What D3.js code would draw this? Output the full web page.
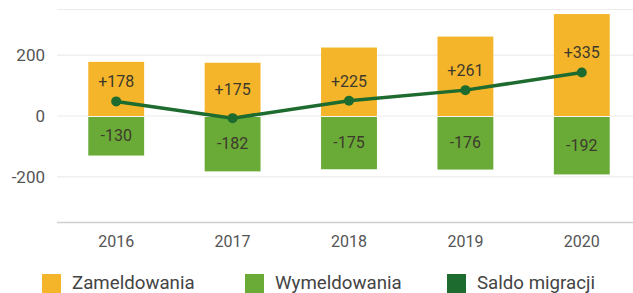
<!DOCTYPE html>
<html>
<head>
<meta charset="utf-8">
<script src="https://cdn.jsdelivr.net/npm/d3@7"></script>
<style>
  body { margin: 0; background: #fff; }
  text { font-family: Roboto, "Noto Sans", sans-serif; }
</style>
</head>
<body>
<div id="chart"></div>
<script>
// data
var years = ["2016", "2017", "2018", "2019", "2020"];
var zameldowania = [178, 175, 225, 261, 335];
var wymeldowania = [-130, -182, -175, -176, -192];
var yTicks = [-200, 0, 200];
var legendLabels = ["Zameldowania", "Wymeldowania", "Saldo migracji"];

var saldo = years.map(function(d, i) { return zameldowania[i] + wymeldowania[i]; });

var width = 633, height = 293;
var colors = ["#f5b52a", "#6aab38", "#1d6b2f"];

var svg = d3.select("#chart")
  .append("svg")
    .attr("width", width)
    .attr("height", height);

// scales
var x = d3.scaleBand()
  .domain(years)
  .range([58, 640])
  .paddingInner(0.52)
  .paddingOuter(0.26);

var y = d3.scaleLinear()
  .domain([-350, 350])
  .range([222.5, 9.5]);

// grid lines
svg.selectAll(".grid")
  .data(yTicks.concat([350]))
  .enter()
  .append("line")
    .attr("x1", 57)
    .attr("x2", width)
    .attr("y1", function(d) { return y(d); })
    .attr("y2", function(d) { return y(d); })
    .style("stroke", "#ebebeb")
    .style("stroke-width", 1.2);

// bottom axis line
svg.append("line")
  .attr("x1", 57).attr("x2", width)
  .attr("y1", y(-350)).attr("y2", y(-350))
  .style("stroke", "#d0d0d0")
  .style("stroke-width", 1.5);

// y labels
svg.selectAll(".ylab")
  .data(yTicks)
  .enter()
  .append("text")
    .attr("x", 45)
    .attr("y", function(d) { return y(d); })
    .attr("dy", "0.35em")
    .attr("text-anchor", "end")
    .style("font-size", "17px")
    .style("fill", "#555")
    .text(function(d) { return d; });

// x labels
svg.selectAll(".xlab")
  .data(years)
  .enter()
  .append("text")
    .attr("x", function(d) { return x(d) + x.bandwidth() / 2; })
    .attr("y", 241)
    .attr("dy", "0.35em")
    .attr("text-anchor", "middle")
    .style("font-size", "16px")
    .style("fill", "#555")
    .text(function(d) { return d; });

// bars
svg.selectAll(".barPos")
  .data(years)
  .enter()
  .append("rect")
    .attr("x", function(d) { return x(d); })
    .attr("width", x.bandwidth())
    .attr("y", function(d, i) { return y(zameldowania[i]); })
    .attr("height", function(d, i) { return y(0) - y(zameldowania[i]); })
    .style("fill", colors[0]);

svg.selectAll(".barNeg")
  .data(years)
  .enter()
  .append("rect")
    .attr("x", function(d) { return x(d); })
    .attr("width", x.bandwidth())
    .attr("y", y(0) + 1)
    .attr("height", function(d, i) { return y(wymeldowania[i]) - y(0) - 1; })
    .style("fill", colors[1]);

// value labels
svg.selectAll(".labPos")
  .data(years)
  .enter()
  .append("text")
    .attr("x", function(d) { return x(d) + x.bandwidth() / 2; })
    .attr("y", function(d, i) {
      var mid = (y(zameldowania[i]) + y(0)) / 2;
      var ly = y(saldo[i]);
      return Math.abs(mid - ly) < 14 ? ly - 20 : mid;
    })
    .attr("dy", "0.35em")
    .attr("text-anchor", "middle")
    .style("font-size", "16px")
    .style("fill", "#3d3a2c")
    .text(function(d, i) { return "+" + zameldowania[i]; });

svg.selectAll(".labNeg")
  .data(years)
  .enter()
  .append("text")
    .attr("x", function(d) { return x(d) + x.bandwidth() / 2; })
    .attr("y", function(d, i) { return (y(wymeldowania[i]) + y(0)) / 2; })
    .attr("dy", "0.35em")
    .attr("text-anchor", "middle")
    .style("font-size", "16px")
    .style("fill", "#3d3a2c")
    .text(function(d, i) { return wymeldowania[i]; });

// saldo line
var line = d3.line()
  .x(function(d, i) { return x(years[i]) + x.bandwidth() / 2; })
  .y(function(d) { return y(d); });

svg.append("path")
  .datum(saldo)
  .attr("d", line)
  .style("fill", "none")
  .style("stroke", colors[2])
  .style("stroke-width", 3.5);

svg.selectAll(".dot")
  .data(saldo)
  .enter()
  .append("circle")
    .attr("cx", function(d, i) { return x(years[i]) + x.bandwidth() / 2; })
    .attr("cy", function(d) { return y(d); })
    .attr("r", 5)
    .style("fill", colors[2]);

// legend
var legendX = [42, 245, 447];
var legend = svg.selectAll(".legend")
  .data(legendLabels)
  .enter()
  .append("g")
    .attr("transform", function(d, i) { return "translate(" + legendX[i] + ",274)"; });

legend.append("rect")
  .attr("width", 19)
  .attr("height", 19)
  .style("fill", function(d, i) { return colors[i]; });

legend.append("text")
  .attr("x", 30)
  .attr("y", 8.5)
  .attr("dy", "0.35em")
  .style("font-size", "18.7px")
  .style("fill", "#444")
  .text(function(d) { return d; });
</script>
</body>
</html>
